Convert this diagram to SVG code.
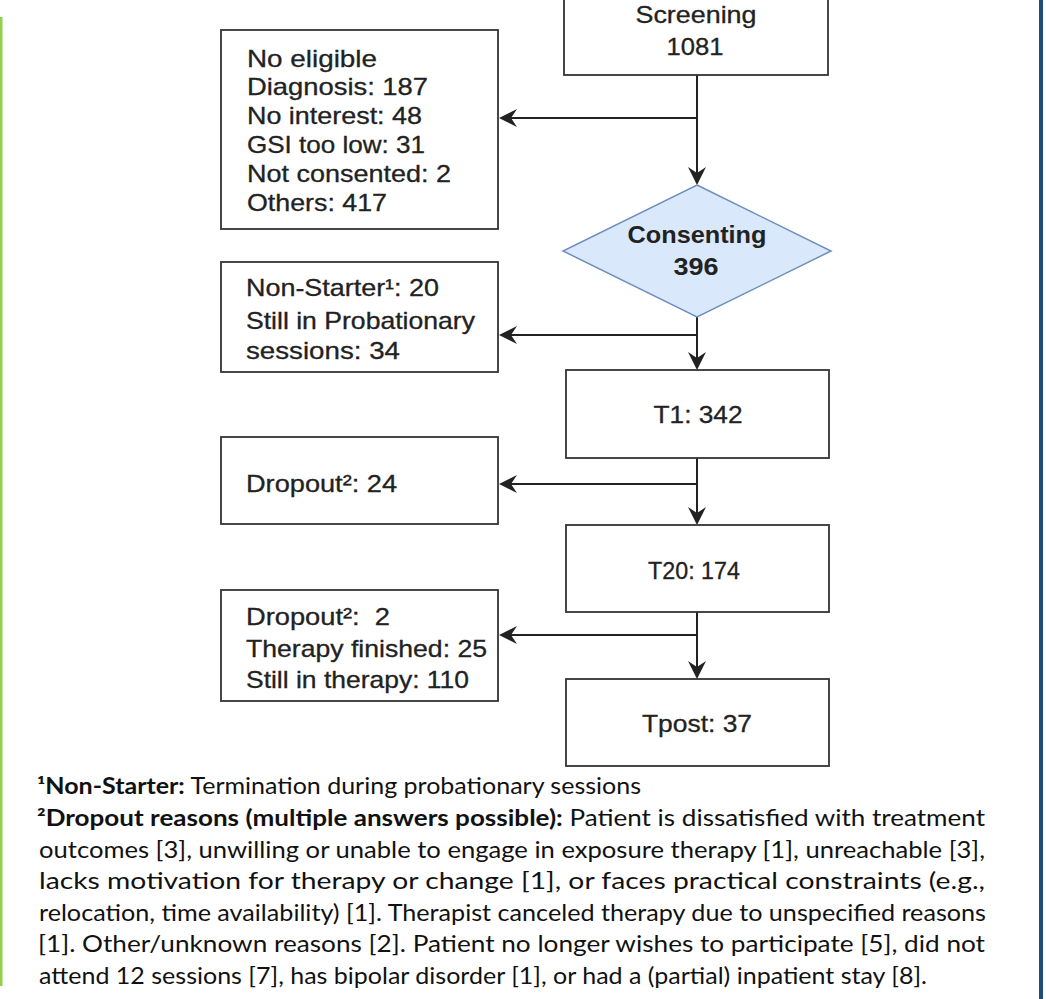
<svg xmlns="http://www.w3.org/2000/svg" width="1046" height="999" viewBox="0 0 1046 999">
<style>
.box{fill:#ffffff;stroke:#333333;stroke-width:1.8}
.dia{fill:#dae8fc;stroke:#6c8ebf;stroke-width:1.5}
.t{font-family:"Liberation Sans",Arial,sans-serif;font-size:24px;fill:#222222;stroke:#222222;stroke-width:0.3}
.tb{font-family:"Liberation Sans",Arial,sans-serif;font-size:24px;font-weight:bold;fill:#222222}
.c{text-anchor:middle}
.edge{fill:none;stroke:#222222;stroke-width:2}
.fn{font-family:Lato,"Open Sans",sans-serif;font-size:22.5px;fill:#111111}
.b{font-weight:bold}
</style>
<defs>
<marker id="arr" viewBox="0 0 18 18" refX="11" refY="9" markerWidth="18" markerHeight="18" markerUnits="userSpaceOnUse" orient="auto">
<path d="M0,0 L18,9 L0,18 L6,9 Z" fill="#222222"/>
</marker>
</defs>
<rect x="0" y="0" width="1046" height="999" fill="#ffffff"/>
<rect id="green-bar" x="0" y="17" width="2.5" height="969" fill="#92d050"/>
<rect id="blue-bar" x="1039" y="0" width="4" height="999" fill="#1f4e79"/>

<g id="connectors">
<path class="edge" d="M697,75 V178" marker-end="url(#arr)"/>
<path class="edge" d="M697,118 H506" marker-end="url(#arr)"/>
<path class="edge" d="M697,317 V363" marker-end="url(#arr)"/>
<path class="edge" d="M697,335 H506" marker-end="url(#arr)"/>
<path class="edge" d="M697,458 V518" marker-end="url(#arr)"/>
<path class="edge" d="M697,484 H506" marker-end="url(#arr)"/>
<path class="edge" d="M697,612 V672" marker-end="url(#arr)"/>
<path class="edge" d="M697,635 H506" marker-end="url(#arr)"/>
</g>

<g id="screening">
<rect class="box" x="564" y="-10" width="264" height="85"/>
<text class="t c" x="696" y="23" textLength="121" lengthAdjust="spacingAndGlyphs">Screening</text>
<text class="t c" x="695" y="55" textLength="57" lengthAdjust="spacingAndGlyphs">1081</text>
</g>

<g id="not-eligible">
<rect class="box" x="221" y="30" width="277" height="199"/>
<text class="t" x="247" y="66.5" textLength="130" lengthAdjust="spacingAndGlyphs">No eligible</text>
<text class="t" x="247" y="95" textLength="181" lengthAdjust="spacingAndGlyphs">Diagnosis: 187</text>
<text class="t" x="247" y="123.5" textLength="175" lengthAdjust="spacingAndGlyphs">No interest: 48</text>
<text class="t" x="247" y="152.5" textLength="178" lengthAdjust="spacingAndGlyphs">GSI too low: 31</text>
<text class="t" x="247" y="181.5" textLength="204" lengthAdjust="spacingAndGlyphs">Not consented: 2</text>
<text class="t" x="247" y="210.5" textLength="140" lengthAdjust="spacingAndGlyphs">Others: 417</text>
</g>

<g id="consenting">
<polygon class="dia" points="697,185 831,251 697,317 563,251"/>
<text class="tb c" x="697" y="243" textLength="139" lengthAdjust="spacingAndGlyphs">Consenting</text>
<text class="tb c" x="696" y="275" textLength="45" lengthAdjust="spacingAndGlyphs">396</text>
</g>

<g id="non-starter">
<rect class="box" x="221" y="262" width="277" height="110"/>
<text class="t" x="246" y="295.5" textLength="193" lengthAdjust="spacingAndGlyphs">Non-Starter¹: 20</text>
<text class="t" x="246" y="328.5" textLength="229" lengthAdjust="spacingAndGlyphs">Still in Probationary</text>
<text class="t" x="246" y="359" textLength="154" lengthAdjust="spacingAndGlyphs">sessions: 34</text>
</g>

<g id="t1">
<rect class="box" x="566" y="370" width="263" height="88"/>
<text class="t c" x="698" y="423" textLength="89" lengthAdjust="spacingAndGlyphs">T1: 342</text>
</g>

<g id="dropout1">
<rect class="box" x="221" y="437" width="277" height="87"/>
<text class="t" x="246" y="491.5" textLength="151" lengthAdjust="spacingAndGlyphs">Dropout²: 24</text>
</g>

<g id="t20">
<rect class="box" x="566" y="525" width="263" height="87"/>
<text class="t c" x="694" y="579" textLength="92" lengthAdjust="spacingAndGlyphs">T20: 174</text>
</g>

<g id="dropout2">
<rect class="box" x="221" y="590" width="277" height="111"/>
<text class="t" x="246" y="625" textLength="144" lengthAdjust="spacingAndGlyphs" xml:space="preserve">Dropout²:  2</text>
<text class="t" x="246" y="657" textLength="241" lengthAdjust="spacingAndGlyphs">Therapy finished: 25</text>
<text class="t" x="246" y="687.5" textLength="223" lengthAdjust="spacingAndGlyphs">Still in therapy: 110</text>
</g>

<g id="tpost">
<rect class="box" x="566" y="679" width="263" height="87"/>
<text class="t c" x="697" y="732" textLength="110" lengthAdjust="spacingAndGlyphs">Tpost: 37</text>
</g>

<g id="footnotes">
<text class="fn" x="37" y="794" textLength="604" lengthAdjust="spacingAndGlyphs"><tspan class="b">¹Non-Starter:</tspan> Termination during probationary sessions</text>
<text class="fn" x="37" y="826" textLength="948" lengthAdjust="spacingAndGlyphs"><tspan class="b">²Dropout reasons (multiple answers possible):</tspan> Patient is dissatisfied with treatment</text>
<text class="fn" x="39" y="858" textLength="946" lengthAdjust="spacingAndGlyphs">outcomes [3], unwilling or unable to engage in exposure therapy [1], unreachable [3],</text>
<text class="fn" x="39" y="889" textLength="946" lengthAdjust="spacingAndGlyphs">lacks motivation for therapy or change [1], or faces practical constraints (e.g.,</text>
<text class="fn" x="39" y="921" textLength="947" lengthAdjust="spacingAndGlyphs">relocation, time availability) [1]. Therapist canceled therapy due to unspecified reasons</text>
<text class="fn" x="38" y="952" textLength="947" lengthAdjust="spacingAndGlyphs">[1]. Other/unknown reasons [2]. Patient no longer wishes to participate [5], did not</text>
<text class="fn" x="39" y="984" textLength="888" lengthAdjust="spacingAndGlyphs">attend 12 sessions [7], has bipolar disorder [1], or had a (partial) inpatient stay [8].</text>
</g>
</svg>
